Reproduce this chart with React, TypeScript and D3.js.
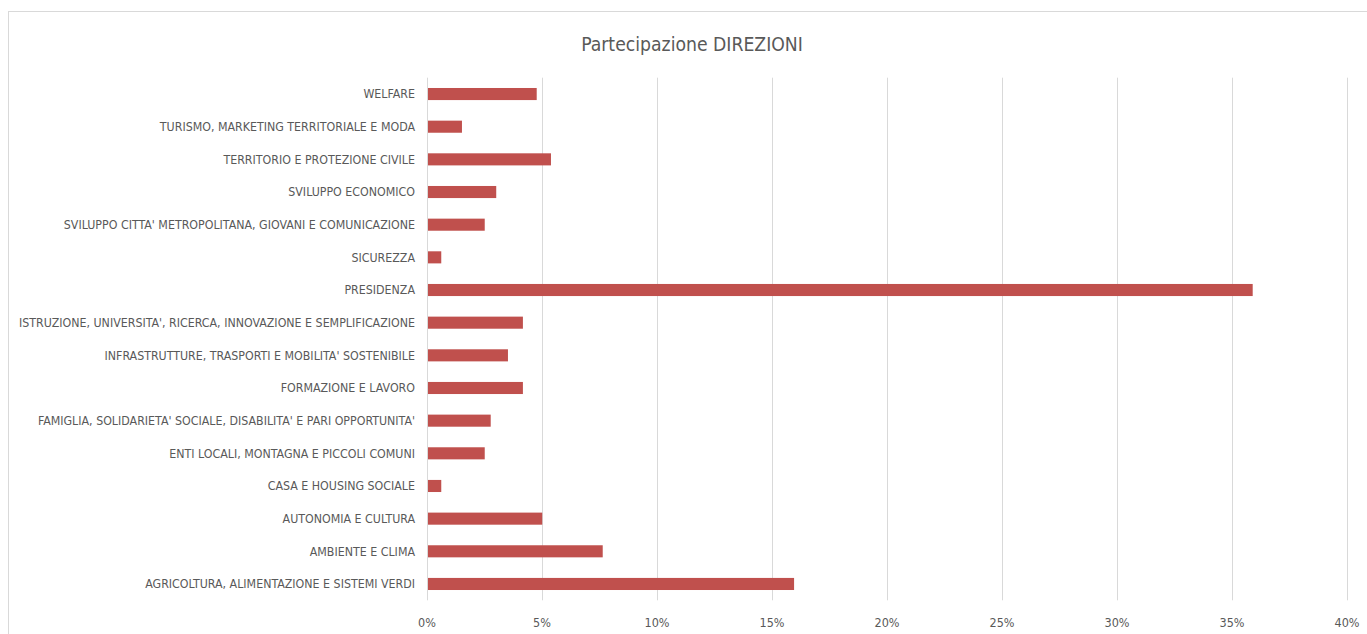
import React from "react";
import * as d3 from "d3";

const categories = [
  "WELFARE",
  "TURISMO, MARKETING TERRITORIALE E MODA",
  "TERRITORIO E PROTEZIONE CIVILE",
  "SVILUPPO ECONOMICO",
  "SVILUPPO CITTA' METROPOLITANA, GIOVANI E COMUNICAZIONE",
  "SICUREZZA",
  "PRESIDENZA",
  "ISTRUZIONE, UNIVERSITA', RICERCA, INNOVAZIONE E SEMPLIFICAZIONE",
  "INFRASTRUTTURE, TRASPORTI E MOBILITA' SOSTENIBILE",
  "FORMAZIONE E LAVORO",
  "FAMIGLIA, SOLIDARIETA' SOCIALE, DISABILITA' E PARI OPPORTUNITA'",
  "ENTI LOCALI, MONTAGNA E PICCOLI COMUNI",
  "CASA E HOUSING SOCIALE",
  "AUTONOMIA E CULTURA",
  "AMBIENTE E CLIMA",
  "AGRICOLTURA, ALIMENTAZIONE E SISTEMI VERDI",
];

const values = [
  0.0477, 0.0152, 0.0539, 0.0301, 0.0251, 0.0062, 0.359, 0.0417, 0.0352,
  0.0417, 0.0277, 0.0251, 0.0062, 0.0501, 0.0764, 0.1596,
];

const ticks = [0, 0.05, 0.1, 0.15, 0.2, 0.25, 0.3, 0.35, 0.4];
const title = "Partecipazione DIREZIONI";

const W = 1367;
const H = 634;
const FONT = "'Liberation Sans Narrow', 'DejaVu Sans Condensed', 'Liberation Sans', sans-serif";

export default function App() {
  const x = d3.scaleLinear().domain([0, 0.4]).range([427, 1347]);
  const y = d3
    .scaleBand<string>()
    .domain(categories)
    .range([77.7, 600.3])
    .paddingInner(0.63)
    .paddingOuter(0.315);
  const fmt = d3.format(".0%");
  return (
    <svg
      width={W}
      height={H}
      style={{ position: "absolute", left: 0, top: 0, background: "#fff" }}
    >
      <rect x={8.5} y={11.5} width={W + 10} height={H + 10} fill="#fff" stroke="#d9d9d9" />
      <text
        x={692}
        y={51}
        textAnchor="middle"
        fontFamily={FONT}
        fontSize={19.2}
        fill="#595959"
      >
        {title}
      </text>
      {ticks.map((t) => (
        <g key={t}>
          <line
            x1={Math.round(x(t)) + 0.5}
            x2={Math.round(x(t)) + 0.5}
            y1={77.7}
            y2={600.3}
            stroke="#d9d9d9"
            strokeWidth={1}
          />
          <text
            x={x(t)}
            y={627}
            textAnchor="middle"
            fontFamily={FONT}
            fontSize={12.5}
            fill="#595959"
          >
            {fmt(t)}
          </text>
        </g>
      ))}
      {categories.map((c, i) => (
        <g key={c}>
          <rect
            x={x(0) + 1}
            y={y(c)!}
            width={x(values[i]) - x(0) - 1}
            height={y.bandwidth()}
            fill="#c0504d"
          />
          <text
            x={415}
            y={y(c)! + y.bandwidth() / 2}
            dy="0.35em"
            textAnchor="end"
            fontFamily={FONT}
            fontSize={12.3}
            fill="#595959"
          >
            {c}
          </text>
        </g>
      ))}
    </svg>
  );
}
